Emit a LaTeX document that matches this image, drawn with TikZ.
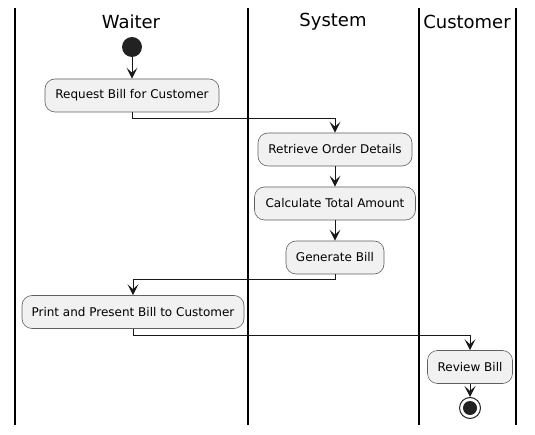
\documentclass[tikz,border=0pt]{standalone}
\usepackage{fontspec}
\setmainfont{DejaVu Sans}
\usetikzlibrary{arrows.meta}
\definecolor{boxfill}{HTML}{F1F1F1}
\definecolor{boxline}{HTML}{5F5F5F}
\definecolor{ink}{HTML}{181818}
\definecolor{dot}{HTML}{222222}
\tikzset{
  act/.style={draw=boxline, fill=boxfill, rounded corners=10pt, line width=0.6pt,
    minimum height=33pt, inner sep=0pt, font=\fontsize{12}{14}\selectfont, text=black},
  lane/.style={line width=1.4pt, draw=black},
  hdr/.style={font=\fontsize{18}{21}\selectfont, text=black},
  flow/.style={draw=ink, line width=1pt, -{Stealth[length=11pt,width=11pt,inset=5pt]}},
}
\begin{document}
\begin{tikzpicture}[x=1pt,y=-1pt]
\useasboundingbox (0,0) rectangle (535,435);
% lanes
\draw[lane] (15,8) -- (15,425);
\draw[lane] (248,8) -- (248,425);
\draw[lane] (419,8) -- (419,425);
\draw[lane] (516,8) -- (516,425);
\node[hdr] (hw) at (131,22) {Waiter};
\node[hdr] (hs) at (333,22) {System};
\node[hdr] (hc) at (467,22) {Customer};
% nodes
\node[circle, fill=dot, minimum size=20pt, inner sep=0pt] (start) at (132,47) {};
\node[act, minimum width=174pt] (req) at (132,95.5) {Request Bill for Customer};
\node[act, minimum width=154pt] (ret) at (335,149.5) {Retrieve Order Details};
\node[act, minimum width=161pt] (calc) at (335,203.5) {Calculate Total Amount};
\node[act, minimum width=98pt] (gen) at (335,257.5) {Generate Bill};
\node[act, minimum width=222pt] (print) at (133,312) {Print and Present Bill to Customer};
\node[act, minimum width=85pt] (rev) at (470,367) {Review Bill};
\node[circle, draw=dot, line width=1pt, fill=white, minimum size=21pt, inner sep=0pt] (stop) at (470,408) {};
\node[circle, fill=dot, minimum size=14pt, inner sep=0pt] at (stop) {};
% connectors
\draw[flow] (start) -- (req);
\coordinate (c1) at (132,119);
\coordinate (c2) at (335,119);
\draw[flow] (req.south) -- (c1) -- (c2) -- (ret.north);
\draw[flow] (ret) -- (calc);
\draw[flow] (calc) -- (gen);
\coordinate (c3) at (335,280);
\coordinate (c4) at (133,280);
\draw[flow] (gen.south) -- (c3) -- (c4) -- (print.north);
\coordinate (c5) at (133,335);
\coordinate (c6) at (470,335);
\draw[flow] (print.south) -- (c5) -- (c6) -- (rev.north);
\draw[flow] (rev) -- (stop);
\end{tikzpicture}
\end{document}
